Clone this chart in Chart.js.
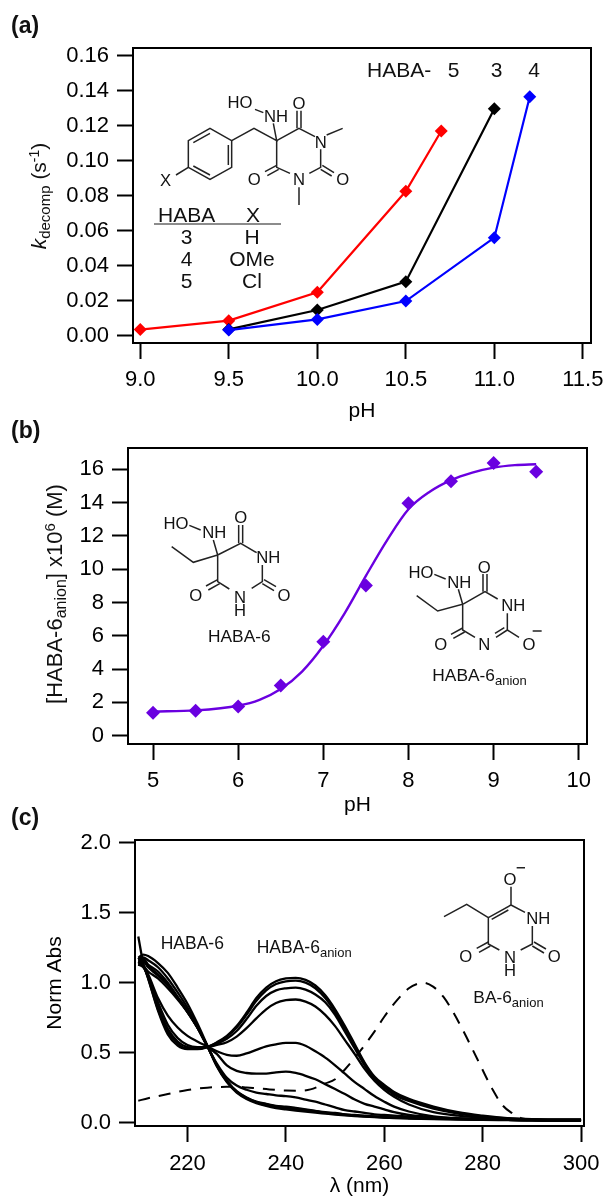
<!DOCTYPE html>
<html><head><meta charset="utf-8">
<style>
html,body{margin:0;padding:0;background:#fff;width:603px;height:1196px;overflow:hidden}
canvas{position:absolute;left:0}
#ov{position:absolute;left:0;top:0;pointer-events:none}
#ov text{font-family:"Liberation Sans",Arial,sans-serif;fill:#111}
#ov line,#ov path{stroke:#222;stroke-width:4.5;fill:none}
.s text{font-size:50px;text-anchor:middle}
</style>
<script src="https://cdn.jsdelivr.net/npm/chart.js@4/dist/chart.umd.js"></script>
</head><body>
<canvas id="ca" style="top:0" width="603" height="430"></canvas>
<canvas id="cb" style="top:430px" width="603" height="388"></canvas>
<canvas id="cc" style="top:815px" width="603" height="384"></canvas>
<svg id="ov" width="603" height="1196" viewBox="0 0 603 1196">
 <text x="11" y="33" font-size="23" font-weight="bold">(a)</text>
 <text x="11" y="438" font-size="23" font-weight="bold">(b)</text>
 <text x="11" y="825" font-size="23" font-weight="bold">(c)</text>
 <text transform="translate(45.5,196) rotate(-90)" text-anchor="middle" font-size="21"><tspan font-style="italic">k</tspan><tspan font-size="15" dy="4">decomp</tspan><tspan dy="-4"> (s</tspan><tspan font-size="14" dy="-7">-1</tspan><tspan dy="7">)</tspan></text>
 <text transform="translate(62,594) rotate(-90)" text-anchor="middle" font-size="22">[HABA-6<tspan font-size="16" dy="4">anion</tspan><tspan dy="-4">] x10</tspan><tspan font-size="15" dy="-7">6</tspan><tspan dy="7"> (M)</tspan></text>

 <text x="367" y="77" font-size="21">HABA-</text>
 <text x="453.5" y="77" font-size="21" text-anchor="middle">5</text>
 <text x="496.7" y="77" font-size="21" text-anchor="middle">3</text>
 <text x="534" y="77" font-size="21" text-anchor="middle">4</text>

 <!-- table in panel a -->
 <g font-size="21" text-anchor="middle">
  <text x="186.7" y="221.7">HABA</text><text x="253" y="221.7">X</text>
  <text x="186.7" y="244">3</text><text x="252" y="244">H</text>
  <text x="186.7" y="266">4</text><text x="252" y="266">OMe</text>
  <text x="186.7" y="288">5</text><text x="252" y="288">Cl</text>
 </g>
 <line x1="154" y1="224" x2="281" y2="224" style="stroke:#666;stroke-width:1.5"/>

 <!-- structure panel a -->
 <g class="s" transform="translate(150,90) scale(.33333)">
  <path d="M180 115L245 152L245 232L180 268L115 232L115 152Z"/>
  <path d="M130 158L180 130M235 165L235 225M130 228L180 255"/>
  <path d="M115 232L78 255M245 152L312 115L380 152L370 100M315 58L340 68"/>
  <path d="M380 152L447 115L495 140M512 178L512 232L478 250M420 250L380 232L380 152"/>
  <path d="M441 115L441 62M453 115L453 62"/>
  <path d="M517 226L552 248M512 238L545 258M380 226L345 245M386 238L352 257"/>
  <path d="M530 135L578 115M447 292L447 345"/>
  <text x="47" y="288">X</text><text x="270" y="53">HO</text><text x="378" y="96">NH</text>
  <text x="447" y="57">O</text><text x="512" y="173">N</text><text x="447" y="286">N</text>
  <text x="578" y="286">O</text><text x="313" y="286">O</text>
 </g>

 <!-- HABA-6 -->
 <g class="s" transform="translate(150,500) scale(.33333)">
  <path d="M118 76L152 90M190 120L203 165L130 187L65 140M203 165L272 130L320 158M337 195L337 245L305 265M238 267L203 245L203 165"/>
  <path d="M266 130L266 75M278 130L278 75M342 239L378 260M337 251L372 272M203 239L168 258M209 251L175 270"/>
  <text x="78" y="86">HO</text><text x="193" y="115">NH</text><text x="272" y="70">O</text>
  <text x="355" y="190">NH</text><text x="270" y="308">N</text><text x="270" y="348">H</text>
  <text x="402" y="303">O</text><text x="137" y="303">O</text>
  <text x="268" y="425" style="font-size:52px">HABA-6</text>
 </g>

 <!-- HABA-6 anion -->
 <g class="s" transform="translate(395,550) scale(.33333)">
  <path d="M118 73L152 87M190 118L203 163L128 183L65 137M203 163L270 125L308 147M337 190L337 240L303 262M328 233L300 250M240 262L203 240L203 163M337 240L372 262M413 243L440 243"/>
  <path d="M264 125L264 72M276 125L276 72M203 234L168 253M209 246L175 265"/>
  <text x="78" y="83">HO</text><text x="193" y="113">NH</text><text x="268" y="68">O</text>
  <text x="355" y="183">NH</text><text x="268" y="300">N</text><text x="402" y="300">O</text><text x="137" y="300">O</text>
  <text x="112" y="393" style="font-size:52px;text-anchor:start">HABA-6<tspan dy="12" style="font-size:39px">anion</tspan></text>
 </g>

 <!-- BA-6 anion -->
 <g class="s" transform="translate(430,850) scale(.33333)">
  <path d="M243 110L243 165L175 203L175 282L208 300M235 180L185 208M175 203L110 163L42 200M243 165L285 187M307 228L307 282L272 300M260 53L285 53"/>
  <path d="M312 276L348 297M307 288L342 309M175 276L140 295M181 288L147 307"/>
  <text x="240" y="106">O</text><text x="325" y="223">NH</text><text x="240" y="340">N</text><text x="240" y="378">H</text>
  <text x="373" y="336">O</text><text x="107" y="336">O</text>
  <text x="130" y="458" style="font-size:52px;text-anchor:start">BA-6<tspan dy="12" style="font-size:39px">anion</tspan></text>
 </g>

 <text x="160.7" y="949" font-size="17.5">HABA-6</text>
 <text x="256.7" y="952.7" font-size="17.5">HABA-6<tspan font-size="13" dy="4">anion</tspan></text>
</svg>
<script>
// Panel (a)
const pHx5 = [9.0, 9.5, 10.0, 10.5, 10.7];
const k5 = [0.0035, 0.0086, 0.0248, 0.0825, 0.117];
const pHx3 = [9.5, 10.0, 10.5, 11.0];
const k3 = [0.0036, 0.0147, 0.0309, 0.1297];
const pHx4 = [9.5, 10.0, 10.5, 11.0, 11.2];
const k4 = [0.0032, 0.0093, 0.0198, 0.056, 0.1366];

// Panel (b)
const pHb = [5, 5.5, 6, 6.5, 7, 7.5, 8, 8.5, 9, 9.5];
const anion = [1.38, 1.5, 1.76, 3.02, 5.64, 9.02, 13.96, 15.28, 16.38, 15.86];
const pHfit = [5, 5.5, 6, 6.25, 6.5, 6.75, 7, 7.25, 7.5, 7.75, 8, 8.25, 8.5, 8.75, 9, 9.25, 9.5];
const anionFit = [1.45, 1.52, 1.8, 2.15, 2.8, 3.85, 5.4, 7.35, 9.6, 11.75, 13.6, 14.65, 15.35, 15.8, 16.1, 16.25, 16.3];

// Panel (c)
const wl = [210,211,212,214,216,218,220,222,224,226,228,230,232,234,236,238,240,242,244,246,248,250,252,254,256,258,260,262,265,270,275,280,285,290,295,300];
const curveA = [1.33,1.14,1.03,.80,.63,.55,.525,.525,.54,.575,.62,.69,.785,.89,.965,1.01,1.03,1.035,1.02,.98,.91,.81,.69,.56,.43,.33,.27,.22,.17,.115,.075,.05,.032,.025,.024,.024];
const curveB = [1.18,1.13,1.03,.81,.65,.565,.53,.53,.54,.57,.615,.68,.77,.87,.945,.99,1.01,1.015,1.0,.96,.89,.79,.67,.55,.42,.32,.26,.21,.16,.105,.07,.045,.03,.024,.022,.022];
const curveC = [1.15,1.12,1.04,.83,.67,.58,.54,.535,.54,.565,.60,.655,.74,.835,.905,.945,.96,.965,.95,.915,.86,.77,.65,.53,.41,.31,.25,.20,.155,.10,.065,.04,.028,.022,.02,.02];
const curveD = [1.13,1.11,1.05,.86,.70,.605,.555,.54,.54,.555,.575,.615,.675,.745,.81,.855,.875,.88,.865,.83,.77,.69,.59,.49,.385,.30,.235,.185,.13,.075,.05,.035,.025,.02,.019,.019];
const curveE = [1.14,1.12,1.06,.89,.765,.68,.62,.58,.545,.51,.485,.478,.495,.52,.545,.56,.57,.57,.55,.51,.465,.41,.35,.29,.24,.19,.15,.115,.08,.045,.03,.025,.02,.018,.018,.018];
const curveF = [1.13,1.12,1.08,1.03,.96,.88,.79,.68,.55,.49,.41,.37,.355,.35,.35,.36,.365,.355,.335,.31,.275,.24,.205,.165,.135,.115,.095,.075,.055,.04,.03,.025,.02,.018,.017,.017];
const curveG = [1.15,1.15,1.11,1.05,.98,.89,.79,.68,.55,.42,.32,.265,.235,.215,.205,.195,.19,.18,.165,.15,.13,.11,.09,.08,.07,.06,.055,.05,.045,.035,.03,.025,.02,.018,.016,.016];
const curveH = [1.16,1.17,1.13,1.08,1.0,.90,.80,.68,.55,.41,.30,.225,.18,.15,.135,.12,.115,.105,.095,.085,.075,.07,.06,.055,.05,.045,.04,.037,.034,.03,.027,.024,.02,.018,.016,.015];
const curveK = [1.15,1.16,1.12,1.06,.99,.89,.79,.68,.55,.408,.297,.222,.178,.148,.13,.117,.11,.10,.091,.082,.072,.066,.058,.052,.047,.043,.039,.036,.033,.029,.026,.023,.02,.018,.016,.014];
const curveI = [1.17,1.18,1.16,1.11,1.03,.93,.82,.69,.55,.405,.295,.22,.175,.145,.125,.113,.105,.095,.087,.08,.07,.063,.056,.05,.045,.042,.038,.035,.032,.028,.025,.022,.02,.018,.016,.014];
const curveJ = [1.18,1.2,1.19,1.14,1.07,.965,.85,.71,.555,.40,.29,.215,.17,.14,.12,.105,.095,.087,.08,.072,.065,.058,.052,.047,.043,.04,.036,.033,.03,.026,.023,.02,.018,.016,.014,.013];
const wlDash = [210,212,214,216,218,220,222,224,226,228,230,232,234,236,238,240,243,245,248,250,252,255,258,260,262,265,267,268,270,272,274,276,278,280,282,284,286,288,290,295,300];
const curveDash = [.157,.175,.19,.205,.22,.233,.243,.25,.254,.256,.257,.252,.246,.24,.234,.23,.229,.238,.28,.31,.38,.507,.65,.757,.85,.96,.995,1.0,.97,.90,.79,.66,.52,.376,.238,.126,.067,.03,.022,.018,.015];

const FONT = '"Liberation Sans", Arial, sans-serif';
const TICK = 22;
const pts = (xs, ys) => xs.map((x, i) => ({x, y: ys[i]}));

const frame = {id:'frame', afterDraw(c){
  const a = c.chartArea, g = c.ctx;
  g.save(); g.strokeStyle='#000'; g.lineWidth=2;
  g.strokeRect(a.left,a.top,a.right-a.left,a.bottom-a.top); g.restore();
}};

function panel(id, o){
  const xScale = {
    type:'linear', min:o.xmin, max:o.xmax,
    afterFit(s){ s.height = o.h - o.bottom; s.paddingLeft = 0; s.paddingRight = 0; },
    grid:{drawOnChartArea:false, tickLength:16, tickWidth:2, tickColor:'#000'},
    border:{display:false},
    ticks:{stepSize:o.xstep, includeBounds:false, autoSkip:false, maxRotation:0, color:'#000', padding:o.xpad,
      font:{family:FONT,size:TICK}, callback:o.xfmt},
    title:{display:true, text:o.xtitle, color:'#000', font:{family:FONT,size:21}, padding:{top:0,bottom:o.xtpad}}
  };
  const yScale = {
    type:'linear', min:o.ymin, max:o.ymax,
    afterFit(s){ s.width = o.left; s.paddingTop = 0; s.paddingBottom = 0; },
    grid:{drawOnChartArea:false, tickLength:16, tickWidth:2, tickColor:'#000'},
    border:{display:false},
    ticks:{stepSize:o.ystep, includeBounds:false, autoSkip:false, color:'#000', padding:o.ypad,
      font:{family:FONT,size:TICK}, callback:o.yfmt},
  };
  if(o.ytitle) yScale.title = {display:true, text:o.ytitle, color:'#000', font:{family:FONT,size:21}, padding:{top:o.ytpad,bottom:0}};
  return new Chart(document.getElementById(id), {
    type:'scatter',
    data:{datasets:o.datasets},
    options:{responsive:false, animation:false, events:[],
      layout:{padding:{left:0,top:o.top,right:603-o.right,bottom:0}},
      plugins:{legend:{display:false}, tooltip:{enabled:false}, title:{display:false}},
      scales:{x:xScale,y:yScale}},
    plugins:[frame]
  });
}
const mk = (label,xs,ys,color) => ({label,data:pts(xs,ys),showLine:true,borderColor:color,backgroundColor:color,borderWidth:2.2,
  pointStyle:'rectRot',pointRadius:6.5,pointBorderWidth:0,pointBackgroundColor:color});
const ln = (label,xs,ys,color,w,dash) => ({label,data:pts(xs,ys),showLine:true,borderColor:color,borderWidth:w,pointRadius:0,
  cubicInterpolationMode:'monotone',borderDash:dash||[]});

panel('ca',{h:430,left:133,right:591,top:48,bottom:343,xmin:8.959,xmax:11.546,ymin:-.00417,ymax:.1644,
  xstep:.5,ystep:.02,xpad:8,ypad:8,xfmt:v=>v.toFixed(1),yfmt:v=>v.toFixed(2),xtitle:'pH',xtpad:6,
  datasets:[mk('HABA-4',pHx4,k4,'#0000ff'),mk('HABA-3',pHx3,k3,'#000000'),mk('HABA-5',pHx5,k5,'#ff0000')]});

panel('cb',{h:388,left:128,right:587,top:18,bottom:314,xmin:4.706,xmax:10.097,ymin:-.5,ymax:17.28,
  xstep:1,ystep:2,xpad:8,ypad:8,xfmt:v=>String(v),yfmt:v=>String(v),xtitle:'pH',xtpad:0,
  datasets:[ln('fit',pHfit,anionFit,'#6a00e0',2.4),
    {label:'HABA-6anion',data:pts(pHb,anion),showLine:false,pointStyle:'rectRot',pointRadius:7,pointBorderWidth:0,pointBackgroundColor:'#6a00e0'}]});

panel('cc',{h:384,left:135,right:584,top:25,bottom:311,xmin:209.33,xmax:300.6,ymin:-.0236,ymax:2.019,
  xstep:20,ystep:.5,xpad:9,ypad:8,xfmt:v=>String(v),yfmt:v=>v.toFixed(1),xtitle:'λ (nm)',xtpad:0,ytitle:'Norm Abs',ytpad:43,
  datasets:[
    ln('dash',wlDash,curveDash,'#000',2,[12,9]),
    ...[curveA,curveB,curveC,curveD,curveE,curveF,curveG,curveH,curveK,curveI,curveJ].map((c,i)=>ln('s'+i,wl,c,'#000',2.3))
  ]});
</script>
</body></html>
